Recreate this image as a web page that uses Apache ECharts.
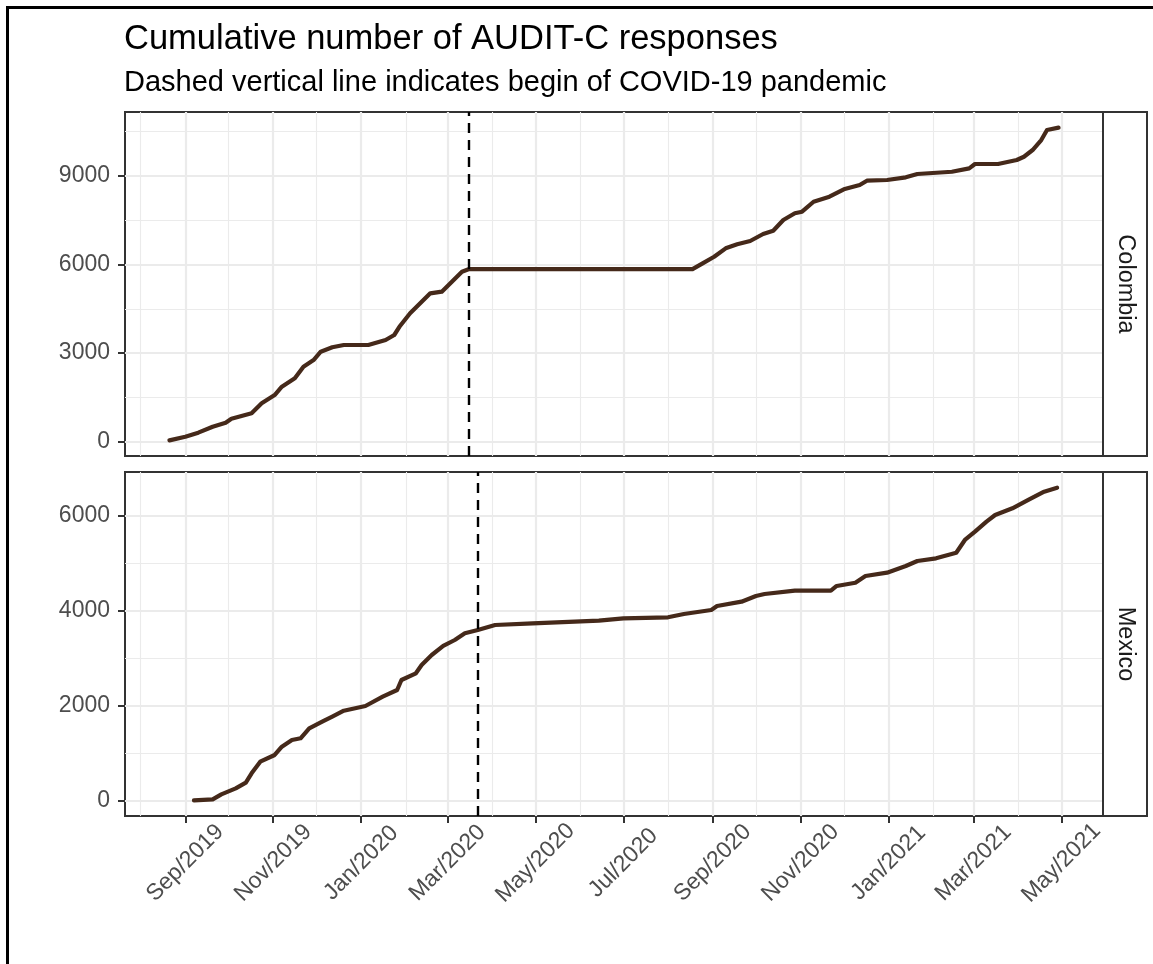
<!DOCTYPE html>
<html>
<head>
<meta charset="utf-8">
<title>Cumulative number of AUDIT-C responses</title>
<script src="https://cdn.jsdelivr.net/npm/echarts@6/dist/echarts.min.js"></script>
<style>
  html, body { margin: 0; padding: 0; background: #fff; }
  #chart { width: 1153px; height: 964px; }
</style>
</head>
<body>
<div id="chart"></div>
<script>
// values
var countries = ['Colombia', 'Mexico'];

var colombiaDates = [
  '2019-08-21', '2019-09-01', '2019-09-10', '2019-09-20', '2019-09-29', '2019-10-03',
  '2019-10-17', '2019-10-24', '2019-11-02', '2019-11-07', '2019-11-16', '2019-11-22',
  '2019-11-29', '2019-12-04', '2019-12-12', '2019-12-20', '2020-01-06', '2020-01-18',
  '2020-01-24', '2020-01-28', '2020-02-04', '2020-02-11', '2020-02-18', '2020-02-26',
  '2020-03-04', '2020-03-11', '2020-03-16', '2020-08-18', '2020-08-25', '2020-09-02',
  '2020-09-10', '2020-09-18', '2020-09-27', '2020-10-06', '2020-10-13', '2020-10-20',
  '2020-10-28', '2020-11-02', '2020-11-10', '2020-11-21', '2020-12-01', '2020-12-12',
  '2020-12-17', '2020-12-31', '2021-01-13', '2021-01-21', '2021-02-14', '2021-02-26',
  '2021-03-02', '2021-03-18', '2021-03-31', '2021-04-05', '2021-04-11', '2021-04-17',
  '2021-04-21', '2021-04-29'
];
var colombiaValues = [
  45, 170, 305, 508, 643, 779,
  961, 1300, 1581, 1862, 2147, 2540,
  2766, 3047, 3196, 3274, 3274, 3444,
  3613, 3918, 4348, 4686, 5025, 5080,
  5418, 5756, 5845, 5845, 6040, 6264,
  6548, 6684, 6796, 7033, 7144, 7507,
  7734, 7788, 8126, 8296, 8546, 8692,
  8838, 8861, 8953, 9064, 9142, 9257,
  9403, 9403, 9538, 9650, 9877, 10215,
  10554, 10635
];

var mexicoDates = [
  '2019-09-07', '2019-09-20', '2019-09-26', '2019-10-06', '2019-10-13', '2019-10-17',
  '2019-10-23', '2019-11-02', '2019-11-07', '2019-11-14', '2019-11-20', '2019-11-26',
  '2019-12-05', '2019-12-12', '2019-12-20', '2020-01-04', '2020-01-16', '2020-01-26',
  '2020-01-29', '2020-02-08', '2020-02-12', '2020-02-19', '2020-02-27', '2020-03-06',
  '2020-03-13', '2020-03-22', '2020-04-03', '2020-04-29', '2020-06-14', '2020-07-01',
  '2020-08-01', '2020-08-12', '2020-08-31', '2020-09-04', '2020-09-21', '2020-10-01',
  '2020-10-07', '2020-10-28', '2020-11-22', '2020-11-26', '2020-12-09', '2020-12-16',
  '2020-12-31', '2021-01-13', '2021-01-21', '2021-02-03', '2021-02-17', '2021-02-23',
  '2021-03-02', '2021-03-10', '2021-03-16', '2021-03-28', '2021-04-08', '2021-04-19',
  '2021-04-28'
];
var mexicoValues = [
  7, 29, 134, 260, 380, 577,
  822, 963, 1138, 1279, 1315, 1525,
  1665, 1770, 1896, 1995, 2191, 2332,
  2543, 2684, 2859, 3070, 3260, 3386,
  3527, 3597, 3702, 3738, 3793, 3843,
  3864, 3934, 4018, 4102, 4193, 4313,
  4355, 4425, 4425, 4524, 4593, 4734,
  4804, 4945, 5050, 5107, 5225, 5493,
  5668, 5879, 6020, 6161, 6336, 6511,
  6596
];

// dashed line: begin of the pandemic, per country
var pandemicStart = ['2020-03-16', '2020-03-22'];

// axis breaks
var xTickDates = ['2019-09-01', '2019-11-01', '2020-01-01', '2020-03-01', '2020-05-01', '2020-07-01',
                  '2020-09-01', '2020-11-01', '2021-01-01', '2021-03-01', '2021-05-01'];
var xTickLabels = ['Sep/2019', 'Nov/2019', 'Jan/2020', 'Mar/2020', 'May/2020', 'Jul/2020',
                   'Sep/2020', 'Nov/2020', 'Jan/2021', 'Mar/2021', 'May/2021'];
var xMinorDates = ['2019-08-01', '2019-10-01', '2019-12-01', '2020-02-01', '2020-04-01', '2020-06-01',
                   '2020-08-01', '2020-10-01', '2020-12-01', '2021-02-01', '2021-04-01'];
var colombiaTicks = [0, 3000, 6000, 9000];
var colombiaMinor = [1500, 4500, 7500, 10500];
var mexicoTicks = [0, 2000, 4000, 6000];
var mexicoMinor = [1000, 3000, 5000];

var FONT = "'Liberation Sans', Arial, sans-serif";
var LINE_COLOR = '#45291A';
var GRID_COLOR = '#EBEBEB';

function toTime(s) { return Date.parse(s); }
// ggplot-like 5% expansion
function expand(lo, hi) { var d = (hi - lo) * 0.05; return [lo - d, hi + d]; }

var panels = [
  { dates: colombiaDates, values: colombiaValues, ticks: colombiaTicks, minor: colombiaMinor, top: 112 },
  { dates: mexicoDates, values: mexicoValues, ticks: mexicoTicks, minor: mexicoMinor, top: 472 }
];
var panelHeight = 344;
var panelLeft = 125;
var panelRight = 1103;
var stripWidth = 44;

var xTicks = xTickDates.map(toTime);
var xMinor = xMinorDates.map(toTime);
var xRange = expand(
  Math.min(toTime(colombiaDates[0]), toTime(mexicoDates[0])),
  Math.max(toTime(colombiaDates[colombiaDates.length - 1]), toTime(mexicoDates[mexicoDates.length - 1]))
);

var grids = [], xAxes = [], yAxes = [], series = [], graphics = [];

panels.forEach(function (p, i) {
  var yRange = expand(Math.min.apply(null, p.values), Math.max.apply(null, p.values));
  var isBottom = i === panels.length - 1;

  grids.push({
    left: panelLeft, top: p.top, width: panelRight - panelLeft, height: panelHeight,
    show: true, backgroundColor: '#fff', borderColor: '#333333', borderWidth: 2,
    containLabel: false, outerBoundsMode: 'none'
  });

  // major x
  xAxes.push({
    type: 'value', gridIndex: i, min: xRange[0], max: xRange[1], position: 'bottom',
    axisLine: { show: false, onZero: false },
    axisTick: { show: isBottom, customValues: xTicks, length: 7, lineStyle: { color: '#333333', width: 2 } },
    axisLabel: {
      show: isBottom, customValues: xTicks, rotate: 45, margin: 47,
      align: 'center', verticalAlign: 'middle',
      fontSize: 23, fontFamily: FONT, color: '#4D4D4D',
      formatter: function (v) { return xTickLabels[xTicks.indexOf(v)]; }
    },
    splitLine: { show: true, lineStyle: { color: GRID_COLOR, width: 2.2 } }
  });
  // minor x (grid only)
  xAxes.push({
    type: 'value', gridIndex: i, min: xRange[0], max: xRange[1], position: 'top',
    axisLine: { show: false, onZero: false },
    axisTick: { show: false, customValues: xMinor },
    axisLabel: { show: false, customValues: xMinor },
    splitLine: { show: true, lineStyle: { color: GRID_COLOR, width: 1.1 } }
  });

  // major y
  yAxes.push({
    type: 'value', gridIndex: i, min: yRange[0], max: yRange[1], position: 'left',
    axisLine: { show: false, onZero: false },
    axisTick: { show: true, customValues: p.ticks, length: 7, lineStyle: { color: '#333333', width: 2 } },
    axisLabel: {
      show: true, customValues: p.ticks, margin: 15, fontSize: 23, fontFamily: FONT, color: '#4D4D4D',
      formatter: function (v) { return String(v); }
    },
    splitLine: { show: true, lineStyle: { color: GRID_COLOR, width: 2.2 } }
  });
  // minor y (grid only)
  yAxes.push({
    type: 'value', gridIndex: i, min: yRange[0], max: yRange[1], position: 'right',
    axisLine: { show: false, onZero: false },
    axisTick: { show: false, customValues: p.minor },
    axisLabel: { show: false, customValues: p.minor },
    splitLine: { show: true, lineStyle: { color: GRID_COLOR, width: 1.1 } }
  });

  series.push({
    name: countries[i], type: 'line',
    xAxisIndex: i * 2, yAxisIndex: i * 2,
    data: p.dates.map(function (d, k) { return [toTime(d), p.values[k]]; }),
    showSymbol: false, symbol: 'none',
    lineStyle: { color: LINE_COLOR, width: 4.2, join: 'round', cap: 'round' },
    z: 3,
    markLine: {
      silent: true, symbol: ['none', 'none'], label: { show: false },
      lineStyle: { color: '#000', type: [10, 7], width: 2.4 },
      emphasis: { disabled: true },
      data: [{ xAxis: toTime(pandemicStart[i]) }]
    }
  });

  // facet strip on the right
  graphics.push({
    type: 'rect', z: 10,
    shape: { x: panelRight, y: p.top, width: stripWidth, height: panelHeight },
    style: { fill: '#fff', stroke: '#333333', lineWidth: 2 }
  });
  graphics.push({
    type: 'text', z: 11,
    x: panelRight + stripWidth / 2, y: p.top + panelHeight / 2, rotation: -Math.PI / 2,
    style: {
      text: countries[i], fontSize: 23.5, fontFamily: FONT, fill: '#1A1A1A',
      align: 'center', verticalAlign: 'middle'
    }
  });
});

// outer frame (left and top edges visible)
graphics.push({
  type: 'rect', z: 0,
  shape: { x: 7.5, y: 7.5, width: 1300, height: 1100 },
  style: { fill: 'none', stroke: '#000', lineWidth: 3 }
});

var chart = echarts.init(document.getElementById('chart'), null, { renderer: 'canvas' });
chart.setOption({
  animation: false,
  backgroundColor: '#fff',
  title: [
    {
      text: 'Cumulative number of AUDIT-C responses', left: 124, top: 19, padding: 0,
      textStyle: { fontSize: 34.5, fontWeight: 'normal', color: '#000', fontFamily: FONT, lineHeight: 40 }
    },
    {
      text: 'Dashed vertical line indicates begin of COVID-19 pandemic', left: 124, top: 66, padding: 0,
      textStyle: { fontSize: 29, fontWeight: 'normal', color: '#000', fontFamily: FONT, lineHeight: 34 }
    }
  ],
  grid: grids,
  xAxis: xAxes,
  yAxis: yAxes,
  series: series,
  graphic: graphics
});
window.addEventListener('resize', function () { chart.resize(); });
</script>
</body>
</html>
